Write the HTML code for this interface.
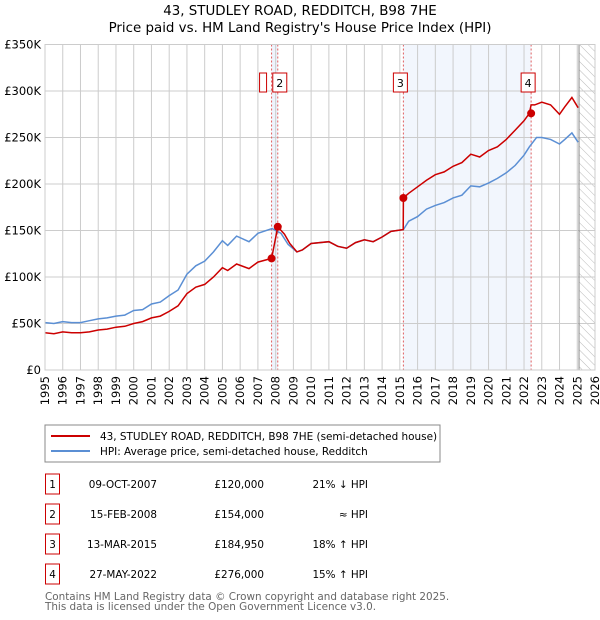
<!DOCTYPE html>
<html><head><meta charset="utf-8"><style>
body{margin:0;background:#fff;font-family:"DejaVu Sans","Liberation Sans",sans-serif;}
svg{display:block}
text{font-family:"DejaVu Sans","Liberation Sans",sans-serif;}
</style></head><body>
<svg id="c" width="600" height="620">
<defs><pattern id="hatch" width="6" height="6" patternUnits="userSpaceOnUse" patternTransform="rotate(-45)"><line x1="0" y1="0" x2="0" y2="6" stroke="#bbb" stroke-width="1"/></pattern></defs>
<text x="300" y="15" text-anchor="middle" font-size="13.4">43, STUDLEY ROAD, REDDITCH, B98 7HE</text>
<text x="300" y="32" text-anchor="middle" font-size="13.4">Price paid vs. HM Land Registry's House Price Index (HPI)</text>
<g id="plot"></g>
<rect x="45" y="425" width="395" height="37" fill="#fff" stroke="#888"/>
<line x1="51" y1="436" x2="90" y2="436" stroke="#cc0000" stroke-width="2"/>
<text x="100" y="440" font-size="10.45">43, STUDLEY ROAD, REDDITCH, B98 7HE (semi-detached house)</text>
<line x1="51" y1="451" x2="90" y2="451" stroke="#5b8fd4" stroke-width="2"/>
<text x="100" y="455" font-size="10.45">HPI: Average price, semi-detached house, Redditch</text>
<g id="tbl" font-size="10.4"></g>
<text x="45" y="600" font-size="10.4" fill="#666">Contains HM Land Registry data © Crown copyright and database right 2025.</text>
<text x="45" y="610" font-size="10.4" fill="#666">This data is licensed under the Open Government Licence v3.0.</text>
</svg>
<script>
const hpiYears=[1995,1995.5,1996,1996.5,1997,1997.5,1998,1998.5,1999,1999.5,2000,2000.5,2001,2001.5,2002,2002.5,2003,2003.5,2004,2004.5,2005,2005.3,2005.8,2006.5,2007,2007.8,2008.3,2008.7,2009.2,2009.5,2010,2011,2011.5,2012,2012.5,2013,2013.5,2014,2014.5,2015.2,2015.5,2016,2016.5,2017,2017.5,2018,2018.5,2019,2019.5,2020,2020.5,2021,2021.5,2022,2022.3,2022.7,2023,2023.5,2024,2024.3,2024.7,2025.05];
const hpiValues=[51,50,52,51,51,53,55,56,58,59,64,65,71,73,80,86,103,112,117,127,139,134,144,138,147,152,147,135,127,129,136,138,133,131,137,140,138,143,149,151,160,165,173,177,180,185,188,198,197,201,206,212,220,231,240,250,250,248,243,248,255,245];
const priceYears=[1995,1995.5,1996,1996.5,1997,1997.5,1998,1998.5,1999,1999.5,2000,2000.5,2001,2001.5,2002,2002.5,2003,2003.5,2004,2004.5,2005,2005.3,2005.8,2006.5,2007,2007.77,2008.12,2008.5,2008.8,2009.2,2009.5,2010,2011,2011.5,2012,2012.5,2013,2013.5,2014,2014.5,2015.19,2015.2,2015.5,2016,2016.5,2017,2017.5,2018,2018.5,2019,2019.5,2020,2020.5,2021,2021.5,2022,2022.3,2022.4,2022.6,2023,2023.5,2024,2024.3,2024.7,2025.05];
const priceValues=[40,39,41,40,40,41,43,44,46,47,50,52,56,58,63,69,82,89,92,100,110,107,114,109,116,120,154,146,136,127,129,136,138,133,131,137,140,138,143,149,151,185,190,197,204,210,213,219,223,232,229,236,240,248,258,268,276,285,285,288,285,275,283,293,282];
const saleYears=[2007.77,2008.12,2015.2,2022.4];
const saleValues=[120,154,184.95,276];
const saleLabels=["1","2","3","4"];
const saleDates=["09-OCT-2007","15-FEB-2008","13-MAR-2015","27-MAY-2022"];
const salePrices=["£120,000","£154,000","£184,950","£276,000"];
const saleRel=["21% ↓ HPI","≈ HPI","18% ↑ HPI","15% ↑ HPI"];
const yTicks=[0,50,100,150,200,250,300,350];
const yTickLabels=["£0","£50K","£100K","£150K","£200K","£250K","£300K","£350K"];
const xTicks=[];for(let y=1995;y<=2026;y++)xTicks.push(y);

const X0=45,X1=595,Y0=370,Y1=44.5;
const xs=t=>X0+(t-1995)/(2026-1995)*(X1-X0);
const ys=v=>Y0-v/350*(Y0-Y1);
const NS="http://www.w3.org/2000/svg";
const plot=document.getElementById('plot');
function mk(tag,attrs,parent){const e=document.createElementNS(NS,tag);for(const k in attrs)e.setAttribute(k,attrs[k]);(parent||plot).appendChild(e);return e;}

let e;
e=mk('rect',{x:xs(saleYears[0]),y:Y1,width:xs(saleYears[1])-xs(saleYears[0]),height:Y0-Y1,fill:'#eef3fc'});


e=mk('rect',{x:xs(saleYears[2]),y:Y1,width:xs(saleYears[3])-xs(saleYears[2]),height:Y0-Y1,fill:'#f2f6fd'});


e=mk('rect',{x:xs(2025.1),y:Y1,width:X1-xs(2025.1),height:Y0-Y1,fill:'url(#hatch)'});


xTicks.forEach((t,i)=>{
 e=mk('line',{x1:xs(t),x2:xs(t),y1:Y1,y2:Y0,stroke:'#ccc','stroke-width':1});
 
 
 const x=xs(t)+4,y=Y0+6;
 e=mk('text',{x:x,y:y,'font-size':11.5,'text-anchor':'end',transform:`rotate(-90 ${x} ${y})`});
 e.textContent=t;
 
 
});
yTicks.forEach((v,i)=>{
 e=mk('line',{x1:X0,x2:X1,y1:ys(v),y2:ys(v),stroke:'#ccc','stroke-width':1});
 
 
 e=mk('text',{x:X0-4,y:ys(v)+4,'font-size':11.5,'text-anchor':'end'});
 e.textContent=yTickLabels[i];
 
 
});
e=mk('line',{x1:xs(2025.1),x2:xs(2025.1),y1:Y1,y2:Y0,stroke:'#888','stroke-width':1});


saleYears.forEach((t,i)=>{
 e=mk('line',{x1:xs(t),x2:xs(t),y1:Y1,y2:Y0,stroke:'#e06060','stroke-width':1,'stroke-dasharray':'2,2'});
 
 
});
const pts=(a,b)=>a.map((t,i)=>xs(t).toFixed(1)+','+ys(b[i]).toFixed(1)).join(' ');
e=mk('polyline',{points:pts(hpiYears,hpiValues),fill:'none',stroke:'#5b8fd4','stroke-width':1.5});


e=mk('polyline',{points:pts(priceYears,priceValues),fill:'none',stroke:'#cc0000','stroke-width':1.5});


saleYears.forEach((t,i)=>{
 e=mk('circle',{cx:xs(t),cy:ys(saleValues[i]),r:4,fill:'#cc0000'});
 
 
 const bx=i===0?xs(t)-12:(i===1?xs(t)-5:xs(t)-10);
 e=mk('rect',{x:bx,y:73,width:i===0?7:14,height:19,fill:'#fff',stroke:'#cc0000'});
 
 
 if(i>0){e=mk('text',{x:bx+7,y:87,'font-size':11,'text-anchor':'middle'});
 e.textContent=saleLabels[i];
 
 }
});
e=mk('rect',{x:X0,y:Y1,width:X1-X0,height:Y0-Y1,fill:'none',stroke:'#ccc'});



const tbl=document.getElementById('tbl');
const rowY=[484,514,544,574];
saleLabels.forEach((l,i)=>{
 const y=rowY[i];
 e=mk('rect',{x:45.5,y:y-10,width:14,height:20,fill:'#fff',stroke:'#cc0000'},tbl);
 
 
 e=mk('text',{x:52.5,y:y+4,'text-anchor':'middle'},tbl);e.textContent=l;
 
 
 e=mk('text',{x:157,y:y+4,'text-anchor':'end'},tbl);e.textContent=saleDates[i];
 
 
 e=mk('text',{x:264,y:y+4,'text-anchor':'end'},tbl);e.textContent=salePrices[i];
 
 
 e=mk('text',{x:368,y:y+4,'text-anchor':'end'},tbl);e.textContent=saleRel[i];
 
 
});
</script>
</body></html>
